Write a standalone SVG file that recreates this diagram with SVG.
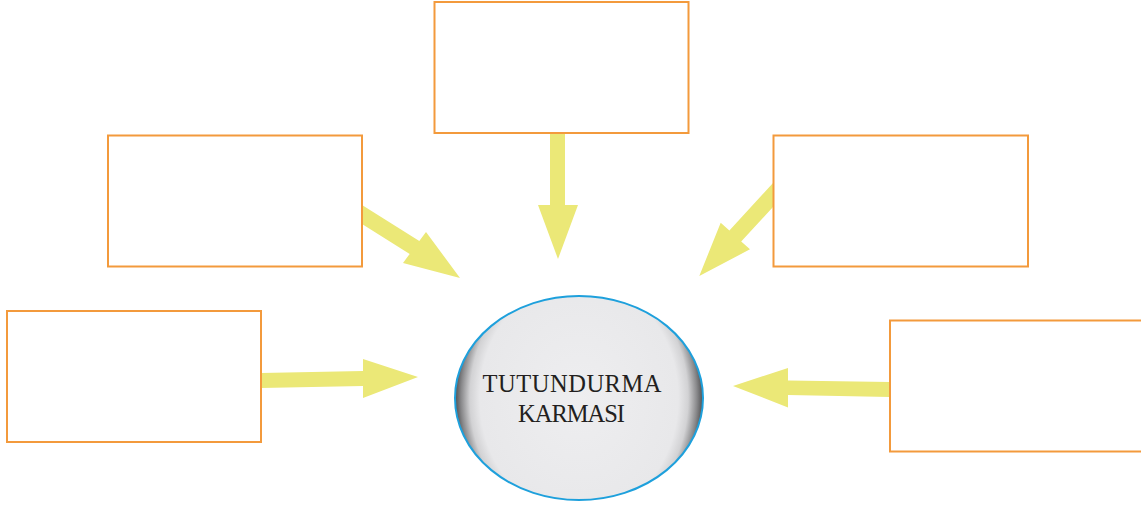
<svg xmlns="http://www.w3.org/2000/svg" width="1141" height="507" viewBox="0 0 1141 507">
<style>
.box{fill:#ffffff;stroke:#f39a3c;stroke-width:2}
.arrow{fill:#ebe877;stroke:none}
.lbl{font-family:"Liberation Serif",serif;font-size:24.5px;fill:#231f20;text-anchor:middle}
</style>
<defs>
<radialGradient id="shade" cx="0.5" cy="0.5" r="0.5" gradientTransform="translate(0.5,0.5) scale(1,1.45) translate(-0.5,-0.5)">
<stop offset="0" stop-color="#eeeef0"/>
<stop offset="0.8" stop-color="#e8e8ea"/>
<stop offset="0.88" stop-color="#d2d2d4"/>
<stop offset="0.95" stop-color="#8a8a8c"/>
<stop offset="1" stop-color="#4e4e50"/>
</radialGradient>
</defs>
<g id="connectors">
<polygon class="arrow" points="550,133 565,133 565,205 578,205 558,259 538,205 550,205"/>
<polygon class="arrow" points="362,205 419.3,241.1 426,232 460,278 403,263 409.7,253.9 362,224"/>
<polygon class="arrow" points="773,183 729.4,230.6 720.7,222.7 699.3,276 750,249.3 741.2,241.4 773,207"/>
<polygon class="arrow" points="261,373 363,371 363,359 418,377 363,398 363,386 261,388"/>
<polygon class="arrow" points="890,382 788,380.5 788,368 733,386 788,407.5 788,395 890,397"/>
</g>
<g id="box-top"><rect class="box" x="434.5" y="2" width="254" height="131"/></g>
<g id="box-upper-left"><rect class="box" x="108" y="135.5" width="254" height="131"/></g>
<g id="box-upper-right"><rect class="box" x="773.5" y="135.5" width="254.5" height="131"/></g>
<g id="box-lower-left"><rect class="box" x="7" y="311" width="254" height="131"/></g>
<g id="box-lower-right"><rect class="box" x="890" y="320.5" width="260" height="131"/></g>
<g id="center">
<ellipse cx="579" cy="398" rx="124" ry="102" fill="url(#shade)"/>
<ellipse cx="579" cy="398" rx="124" ry="102" fill="none" stroke="#1ea0dc" stroke-width="2"/>
<text class="lbl" x="572" y="392" textLength="179" lengthAdjust="spacing">TUTUNDURMA</text>
<text class="lbl" x="571.5" y="422" textLength="107" lengthAdjust="spacing">KARMASI</text>
</g>
</svg>
